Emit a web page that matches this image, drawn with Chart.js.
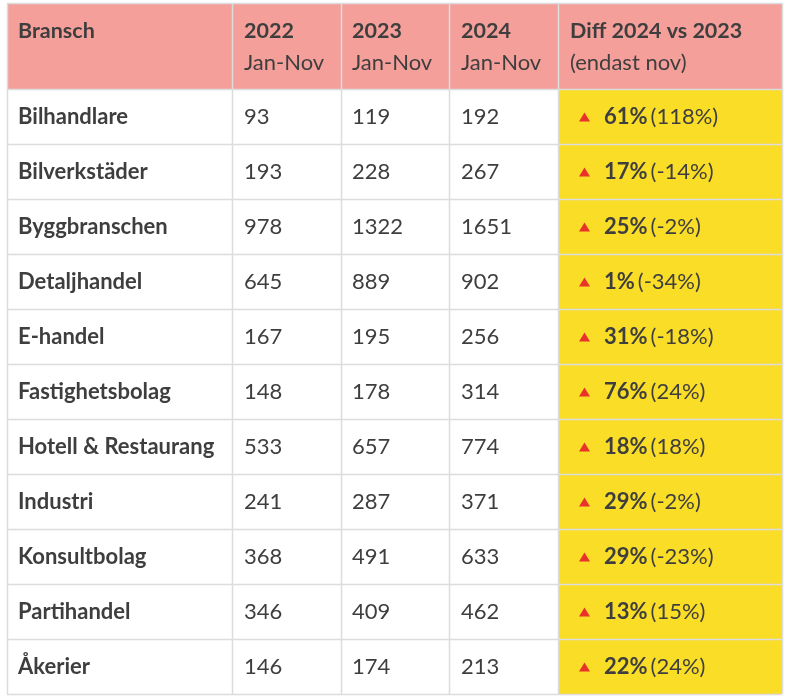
<!DOCTYPE html>
<html>
<head>
<meta charset="utf-8">
<script src="https://cdn.jsdelivr.net/npm/chart.js@4/dist/chart.umd.min.js"></script>
<style>
  html, body { margin: 0; padding: 0; background: #ffffff; }
  #wrap { width: 787px; height: 700px; }
</style>
</head>
<body>
<div id="wrap"><canvas id="c" width="787" height="700"></canvas></div>
<script>
// ---- Data ----
const branches = ["Bilhandlare", "Bilverkstäder", "Byggbranschen", "Detaljhandel", "E-handel",
  "Fastighetsbolag", "Hotell & Restaurang", "Industri", "Konsultbolag", "Partihandel", "Åkerier"];
const v2022 = [93, 193, 978, 645, 167, 148, 533, 241, 368, 346, 146];
const v2023 = [119, 228, 1322, 889, 195, 178, 657, 287, 491, 409, 174];
const v2024 = [192, 267, 1651, 902, 256, 314, 774, 371, 633, 462, 213];
const diffTotal = [61, 17, 25, 1, 31, 76, 18, 29, 29, 13, 22];
const diffNov = [118, -14, -2, -34, -18, 24, 18, -2, -23, 15, 24];
const headerTitles = ["Bransch", "2022", "2023", "2024", "Diff 2024 vs 2023"];
const headerSubs = ["", "Jan-Nov", "Jan-Nov", "Jan-Nov", "(endast nov)"];

// ---- Layout / style ----
const colEdges = [7, 232, 341, 449, 558, 782];
const tableTop = 3;
const textColor = "#3e3e3e";
const headerBg = "#f59f9b";
const yellow = "#fadd27";
const borderColor = "#dcdcdc";
const FONT = "Lato, 'Open Sans', sans-serif";
const FS = 22;

const tablePlugin = {
  id: "tablePlugin",
  beforeDraw(chart) {
    const ctx = chart.ctx;
    const area = chart.chartArea;
    const yScale = chart.scales.y;
    const n = branches.length;
    const rowH = (area.bottom - area.top) / n;
    ctx.save();
    ctx.fillStyle = headerBg;
    ctx.fillRect(colEdges[0], tableTop, colEdges[5] - colEdges[0], area.top - tableTop);
    ctx.fillStyle = yellow;
    ctx.fillRect(colEdges[4], area.top, colEdges[5] - colEdges[4], area.bottom - area.top);
    ctx.strokeStyle = borderColor;
    ctx.lineWidth = 1.5;
    ctx.beginPath();
    for (const x of colEdges) {
      ctx.moveTo(x + 0.5, tableTop);
      ctx.lineTo(x + 0.5, area.bottom);
    }
    ctx.moveTo(colEdges[0], tableTop + 0.5);
    ctx.lineTo(colEdges[5], tableTop + 0.5);
    for (let i = 0; i < n; i++) {
      const yc = yScale.getPixelForValue(i);
      const yTop = Math.round(yc - rowH / 2) + 0.5;
      ctx.moveTo(colEdges[0], yTop);
      ctx.lineTo(colEdges[5], yTop);
    }
    ctx.moveTo(colEdges[0], area.bottom + 0.5);
    ctx.lineTo(colEdges[5], area.bottom + 0.5);
    ctx.stroke();
    ctx.restore();
  },
  afterDraw(chart) {
    const ctx = chart.ctx;
    const yScale = chart.scales.y;
    ctx.save();
    ctx.fillStyle = textColor;
    ctx.textBaseline = "alphabetic";
    ctx.textAlign = "left";
    const pads = [11, 12, 11, 12, 12];
    for (let c = 0; c < 5; c++) {
      const x = colEdges[c] + pads[c];
      ctx.font = "bold " + (FS - 0.5) + "px " + FONT;
      ctx.fillText(headerTitles[c], x, 38);
      if (headerSubs[c]) {
        ctx.font = FS + "px " + FONT;
        ctx.fillText(headerSubs[c], x, 70);
      }
    }
    for (let i = 0; i < branches.length; i++) {
      const yc = yScale.getPixelForValue(i);
      const base = yc + 7.5;
      ctx.fillStyle = textColor;
      ctx.font = "bold " + FS + "px " + FONT;
      ctx.fillText(branches[i], colEdges[0] + pads[0], base);
      ctx.font = FS + "px " + FONT;
      ctx.fillText(String(v2022[i]), colEdges[1] + pads[1], base);
      ctx.fillText(String(v2023[i]), colEdges[2] + pads[2], base);
      ctx.fillText(String(v2024[i]), colEdges[3] + pads[3], base);
      const tx = colEdges[4] + 21;
      ctx.fillStyle = "#e8332b";
      ctx.beginPath();
      ctx.moveTo(tx, yc + 5);
      ctx.lineTo(tx + 11, yc + 5);
      ctx.lineTo(tx + 5.5, yc - 4);
      ctx.closePath();
      ctx.fill();
      ctx.fillStyle = textColor;
      ctx.font = "bold " + FS + "px " + FONT;
      const t1 = diffTotal[i] + "%";
      const px = colEdges[4] + 46;
      ctx.fillText(t1, px, base);
      const w = ctx.measureText(t1).width;
      ctx.font = FS + "px " + FONT;
      ctx.fillText("(" + diffNov[i] + "%)", px + w + 3, base);
    }
    ctx.restore();
  }
};

new Chart(document.getElementById("c"), {
  type: "bar",
  data: { labels: branches, datasets: [] },
  options: {
    responsive: false,
    animation: false,
    indexAxis: "y",
    events: [],
    layout: { padding: { top: 89, bottom: 6, left: 7, right: 5 } },
    plugins: { legend: { display: false }, tooltip: { enabled: false }, title: { display: false } },
    scales: {
      y: { type: "category", labels: branches, offset: true, display: false },
      x: { type: "linear", min: 0, max: 1, display: false }
    }
  },
  plugins: [tablePlugin]
});
</script>
</body>
</html>
